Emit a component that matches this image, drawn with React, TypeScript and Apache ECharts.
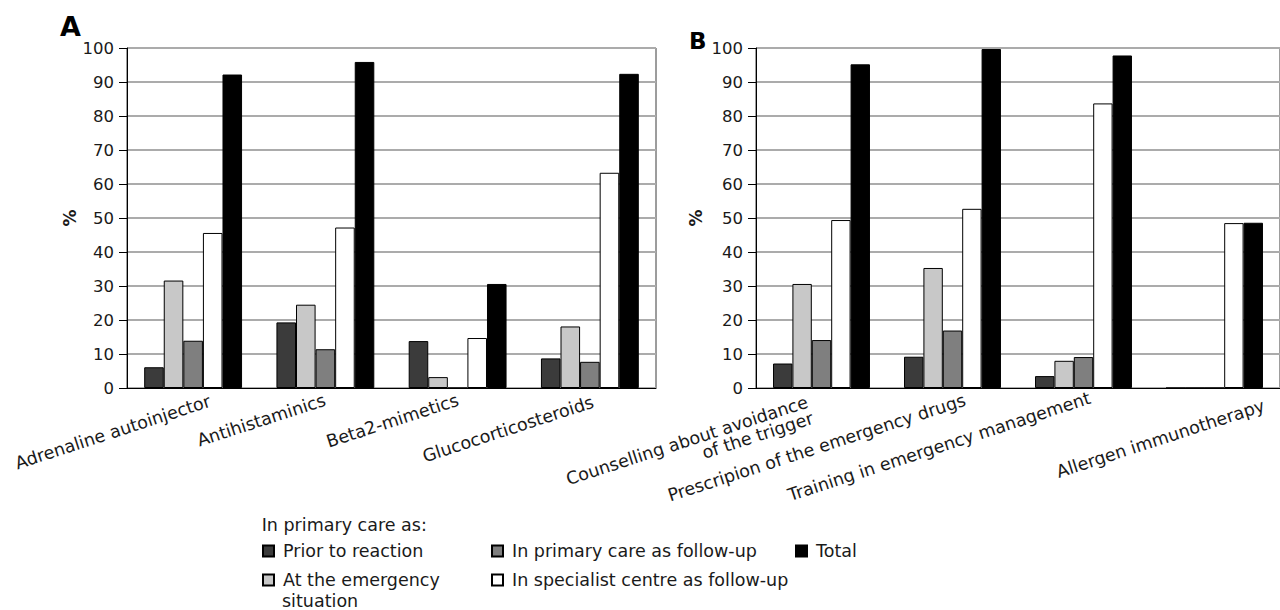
import React, { useEffect, useRef } from 'react';
import * as echarts from 'echarts';

// ---- data ----
const seriesNames = [
  'Prior to reaction',
  'At the emergency situation',
  'In primary care as follow-up',
  'In specialist centre as follow-up',
  'Total',
];
const categoriesA = ['Adrenaline autoinjector', 'Antihistaminics', 'Beta2-mimetics', 'Glucocorticosteroids'];
const categoriesB = [
  'Counselling about avoidance\nof the trigger',
  'Prescripion of the emergency drugs',
  'Training in emergency management',
  'Allergen immunotherapy',
];
const legendTitle = 'In primary care as:';
const legendWrapFirst = 'At the emergency';
const legendWrapSecond = 'situation';
const yMin = 0;
const yMax = 100;
const yStep = 10;

const priorA = [6.1, 19.3, 13.8, 8.7];
const emergencyA = [31.6, 24.5, 3.2, 18.1];
const primaryFollowA = [13.9, 11.4, 0, 7.7];
const specialistA = [45.6, 47.2, 14.7, 63.3];
const totalA = [92.2, 95.9, 30.6, 92.4];

const priorB = [7.2, 9.2, 3.5, 0];
const emergencyB = [30.6, 35.3, 8.0, 0];
const primaryFollowB = [14.1, 16.9, 9.1, 0];
const specialistB = [49.4, 52.7, 83.7, 48.5];
const totalB = [95.2, 99.7, 97.8, 48.6];

// ---- styles ----
const FONT = '"DejaVu Sans", sans-serif';
const TXT = '#1a1a1a';
const colors = ['#3b3b3b', '#c8c8c8', '#7f7f7f', '#ffffff', '#000000'];
const ROT = (18 * Math.PI) / 180;

const labelAnchorsA = [
  [210, 400.5],
  [325, 399.5],
  [458, 399.5],
  [593, 401.5],
];
const labelAnchorsB = [
  [810, 409.5],
  [965, 399.5],
  [1090, 397.5],
  [1264, 405],
];

export default function App() {
  const ref = useRef<HTMLDivElement>(null);
  useEffect(() => {
    if (!ref.current) return;
    const chart = echarts.init(ref.current, undefined, { renderer: 'svg' });

    const dataA = [priorA, emergencyA, primaryFollowA, specialistA, totalA];
    const dataB = [priorB, emergencyB, primaryFollowB, specialistB, totalB];

    const mkSeries = (idx: number, data: number[], axis: number) => ({
      type: 'bar',
      name: seriesNames[idx],
      data,
      xAxisIndex: axis,
      yAxisIndex: axis,
      barGap: '0%',
      barCategoryGap: '26%',
      itemStyle: { color: colors[idx], borderColor: '#000', borderWidth: 1 },
      emphasis: { disabled: true },
    });

    const yAxisBase = (nameGap: number) => ({
      type: 'value',
      min: yMin,
      max: yMax,
      interval: yStep,
      name: '%',
      nameLocation: 'middle',
      nameRotate: 90,
      nameGap,
      nameTextStyle: { fontFamily: FONT, fontSize: 17, fontWeight: 'bold', color: TXT },
      axisLine: { show: true, lineStyle: { color: '#000', width: 1 } },
      axisTick: { show: true, length: 8, lineStyle: { color: '#000' } },
      axisLabel: { fontFamily: FONT, fontSize: 16.5, color: TXT, margin: 13 },
      splitLine: { show: true, lineStyle: { color: '#ababab', width: 2 } },
    });

    const xAxisBase = (cats: string[], grid: number) => ({
      type: 'category',
      gridIndex: grid,
      data: cats,
      axisLine: { show: true, lineStyle: { color: '#000', width: 1 } },
      axisTick: { show: false },
      axisLabel: { show: false },
      splitLine: { show: false },
    });

    const catLabel = (text: string, pos: number[]) => ({
      type: 'text',
      x: pos[0],
      y: pos[1],
      rotation: ROT,
      silent: true,
      style: {
        text,
        fontFamily: FONT,
        fontSize: 17.5,
        lineHeight: 17,
        fill: TXT,
        align: 'right',
        verticalAlign: 'middle',
        textAlign: 'right',
        textVerticalAlign: 'middle',
      },
    });

    const plainText = (text: string, x: number, y: number, size: number, weight = 'normal') => ({
      type: 'text',
      x,
      y,
      silent: true,
      style: {
        text,
        fontFamily: FONT,
        fontSize: size,
        fontWeight: weight,
        lineHeight: 16,
        fill: weight === 'bold' ? '#000' : TXT,
        align: 'left',
        verticalAlign: 'middle',
        textAlign: 'left',
        textVerticalAlign: 'middle',
      },
    });

    const legendCommon = {
      orient: 'vertical',
      itemWidth: 11,
      itemHeight: 11,
      padding: 0,
      height: 100,
      top: 542,
      itemGap: 11,
      selectedMode: false,
      icon: 'rect',
      textStyle: { fontFamily: FONT, fontSize: 17.5, color: TXT, lineHeight: 18, padding: [0, 0, 0, 4] },
    };

    chart.setOption({
      animation: false,
      textStyle: { fontFamily: FONT },
      grid: [
        { left: 127, top: 48, width: 529, height: 340, show: true, borderColor: '#3a3a3a', borderWidth: 1, backgroundColor: 'transparent' },
        { left: 756, top: 48, width: 528, height: 340, show: true, borderColor: '#3a3a3a', borderWidth: 1, backgroundColor: 'transparent' },
      ],
      xAxis: [xAxisBase(categoriesA, 0), xAxisBase(categoriesB, 1)],
      yAxis: [
        { ...yAxisBase(46), gridIndex: 0 },
        { ...yAxisBase(52), gridIndex: 1 },
      ],
      legend: [
        {
          ...legendCommon,
          left: 262,
          data: [seriesNames[0], seriesNames[1]],
          // the long entry wraps; its second line is drawn below as a text element
          formatter: (n: string) => (n === seriesNames[1] ? legendWrapFirst : n),
        },
        { ...legendCommon, left: 491, data: [seriesNames[2], seriesNames[3]] },
        { ...legendCommon, left: 795, data: [seriesNames[4]] },
      ],
      graphic: [
        plainText('A', 60, 26, 27, 'bold'),
        plainText('B', 689, 40.5, 23, 'bold'),
        plainText(legendTitle, 261.7, 525, 17.5),
        plainText(legendWrapSecond, 282, 600.5, 17.5),
        ...categoriesA.map((c, i) => catLabel(c, labelAnchorsA[i])),
        ...categoriesB.map((c, i) => catLabel(c, labelAnchorsB[i])),
      ],
      series: [
        ...dataA.map((d, i) => mkSeries(i, d, 0)),
        ...dataB.map((d, i) => mkSeries(i, d, 1)),
      ],
    });

    return () => chart.dispose();
  }, []);

  return (
    <div
      ref={ref}
      style={{ position: 'absolute', left: 0, top: 0, width: 1280, height: 610, background: '#fff' }}
    />
  );
}
